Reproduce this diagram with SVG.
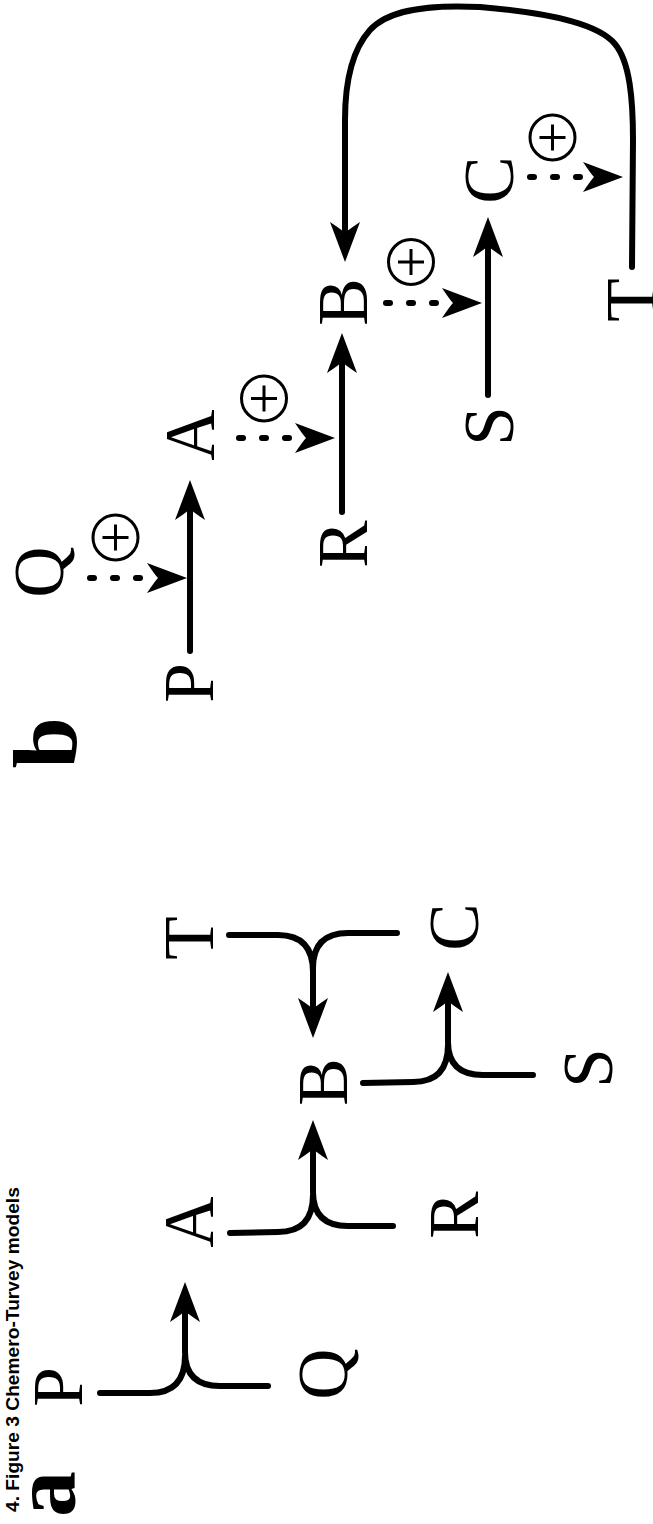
<svg xmlns="http://www.w3.org/2000/svg" width="653" height="1524" viewBox="0 0 653 1524">
<style>
.lbl{font-family:"Liberation Serif","Times New Roman",serif;font-size:71px;fill:#000;text-anchor:middle}
.pan{font-family:"Liberation Serif","Times New Roman",serif;font-size:92px;font-weight:bold;fill:#000;text-anchor:middle}
.cap{font-family:"Liberation Sans",Arial,sans-serif;font-size:19.2px;font-weight:bold;fill:#000}
.con{fill:none;stroke:#000;stroke-width:6;stroke-linecap:round;stroke-linejoin:round}
.arr{marker-end:url(#ah)}
.dash{stroke-dasharray:4 19}
.plus circle{fill:none;stroke:#000;stroke-width:3}
.plus path{fill:none;stroke:#000;stroke-width:3}
</style>
<defs>
<marker id="ah" viewBox="-42 -17 44 34" markerWidth="44" markerHeight="34" refX="-28" refY="0" orient="auto" markerUnits="userSpaceOnUse">
<path d="M0,0 L-40,-15 Q-32,-3 -29,0 Q-32,3 -40,15 Z" fill="#000" stroke="none"/>
</marker>
</defs>

<text class="cap" transform="translate(18.5,1512) rotate(-90)">4. Figure 3 Chemero-Turvey models</text>

<g id="panel-a-label"><text class="pan" transform="translate(75,1494) rotate(-90)">a</text></g>
<g id="panel-b-label"><text class="pan" transform="translate(76,743) rotate(-90)">b</text></g>

<!-- panel a nodes -->
<g id="a-P"><text class="lbl" transform="translate(82,1387) rotate(-90)">P</text></g>
<g id="a-Q"><text class="lbl" transform="translate(347,1374) rotate(-90)">Q</text></g>
<g id="a-A"><text class="lbl" transform="translate(213,1222) rotate(-90)">A</text></g>
<g id="a-R"><text class="lbl" transform="translate(478,1215) rotate(-90)">R</text></g>
<g id="a-B"><text class="lbl" transform="translate(347,1082) rotate(-90)">B</text></g>
<g id="a-S"><text class="lbl" transform="translate(612,1068) rotate(-90)">S</text></g>
<g id="a-T"><text class="lbl" transform="translate(213,938) rotate(-90)">T</text></g>
<g id="a-C"><text class="lbl" transform="translate(478,927) rotate(-90)">C</text></g>

<!-- panel b nodes -->
<g id="b-P"><text class="lbl" transform="translate(213,683) rotate(-90)">P</text></g>
<g id="b-Q"><text class="lbl" transform="translate(63,572) rotate(-90)">Q</text></g>
<g id="b-A"><text class="lbl" transform="translate(214,435) rotate(-90)">A</text></g>
<g id="b-R"><text class="lbl" transform="translate(367,544) rotate(-90)">R</text></g>
<g id="b-B"><text class="lbl" transform="translate(367,302) rotate(-90)">B</text></g>
<g id="b-S"><text class="lbl" transform="translate(513,426) rotate(-90)">S</text></g>
<g id="b-C"><text class="lbl" transform="translate(513,180) rotate(-90)">C</text></g>
<g id="b-T"><text class="lbl" transform="translate(655,300) rotate(-90)">T</text></g>

<g id="b-plus1" class="plus" transform="translate(115.5,537.5)"><circle r="22.5"/><path d="M-13,0 H13 M0,-13 V13"/></g>
<g id="b-plus2" class="plus" transform="translate(264,398.5)"><circle r="22.5"/><path d="M-13,0 H13 M0,-13 V13"/></g>
<g id="b-plus3" class="plus" transform="translate(411,262)"><circle r="22.5"/><path d="M-13,0 H13 M0,-13 V13"/></g>
<g id="b-plus4" class="plus" transform="translate(552.5,137.5)"><circle r="22.5"/><path d="M-13,0 H13 M0,-13 V13"/></g>

<g id="connectors">
<!-- panel a -->
<path class="con arr" d="M100,1393 L150,1393 Q185,1393 185,1356 M268,1386 L220,1386 Q185,1386 185,1352 L185,1310"/>
<path class="con arr" d="M230,1233 L278,1232 Q313,1232 313,1195 M393,1226 L348,1226 Q313,1226 313,1192 L313,1148"/>
<path class="con arr" d="M363,1083 L413,1082 Q448,1082 448,1045 M533,1075 L483,1075 Q448,1075 448,1042 L448,1000"/>
<path class="con arr" d="M229,935 L278,935 Q313,935 313,972 M397,933 L348,933 Q313,933 313,968 L313,1010"/>
<!-- panel b solid -->
<path class="con arr" d="M190,651 L190,508"/>
<path class="con arr" d="M342,512 L342,361"/>
<path class="con arr" d="M488,395 L488,245"/>
<path class="con arr" d="M632,267 L633,140 C633,100 630,62 615,44 C600,26 560,14 480,7 C420,4 386,12 370,30 C352,50 345,80 345,120 L345,234"/>
<!-- panel b dashed -->
<path class="con dash arr" d="M90,578 L159,578"/>
<path class="con dash arr" d="M239,438 L307,438"/>
<path class="con dash arr" d="M386,303 L454,303"/>
<path class="con dash arr" d="M530,177 L595,177"/>
</g>
</svg>
